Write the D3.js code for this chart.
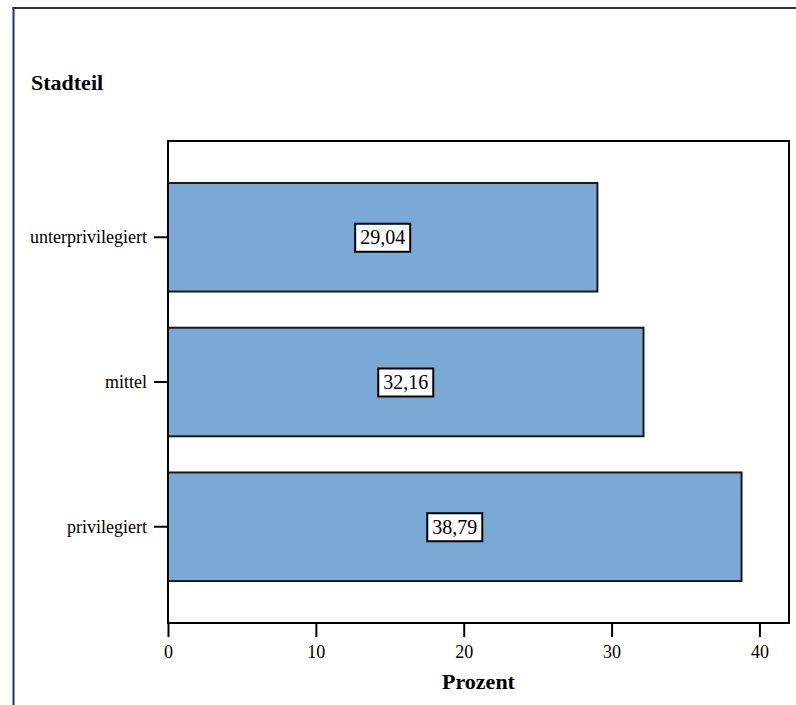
<!DOCTYPE html>
<html><head><meta charset="utf-8">
<script src="https://cdn.jsdelivr.net/npm/d3@7"></script>
<style>
body{margin:0;background:#fff;}
svg{display:block;}
text{font-family:"Liberation Serif","DejaVu Serif",serif;fill:#000;}
</style></head>
<body>
<svg id="chart" width="796" height="705"></svg>
<script>
const categories = ["unterprivilegiert", "mittel", "privilegiert"];
const values = [29.04, 32.16, 38.79];
const labels = ["29,04", "32,16", "38,79"];
const xTicks = [0, 10, 20, 30, 40];
const xDomain = [0, 42];
const chartTitle = "Stadteil";
const xTitle = "Prozent";

const svg = d3.select("#chart");
const W = 796, H = 705;
const plot = {left: 168, top: 141, right: 789, bottom: 623};

// outer frame (left + top lines)
svg.append("line").attr("x1", 13.5).attr("x2", 13.5).attr("y1", 7).attr("y2", H)
  .attr("stroke", "#2b2b6e").attr("stroke-width", 2);
svg.append("line").attr("x1", 12.5).attr("x2", W).attr("y1", 8).attr("y2", 8)
  .attr("stroke", "#2b2b6e").attr("stroke-width", 2);

svg.append("text").attr("x", 31).attr("y", 90)
  .attr("font-size", 22).attr("font-weight", "bold").text(chartTitle);

const x = d3.scaleLinear().domain(xDomain).range([plot.left, plot.right]);
const y = d3.scaleBand().domain(categories).range([plot.top, plot.bottom])
  .paddingInner(0.25).paddingOuter(0.29);

// bars
svg.append("g").selectAll("rect").data(categories).join("rect")
  .attr("x", x(0))
  .attr("y", d => y(d))
  .attr("width", (d, i) => x(values[i]) - x(0))
  .attr("height", y.bandwidth())
  .attr("fill", "#7aa9d6")
  .attr("stroke", "#1a1a1a")
  .attr("stroke-width", 2);

// value labels
const lg = svg.append("g").selectAll("g").data(categories).join("g")
  .attr("transform", (d, i) => `translate(${(x(0) + x(values[i])) / 2},${y(d) + y.bandwidth() / 2})`);
lg.append("rect").attr("fill", "#fff").attr("stroke", "#000").attr("stroke-width", 2);
const txts = lg.append("text").attr("text-anchor", "middle").attr("dy", "0.35em")
  .attr("font-size", 20).text((d, i) => labels[i]);
txts.each(function () {
  const b = this.getBBox();
  const w = b.width + 10, h = 28;
  d3.select(this.parentNode).select("rect")
    .attr("x", -w / 2).attr("y", -h / 2 + 0.5).attr("width", w).attr("height", h);
});

// axes
const xAxis = svg.append("g").attr("transform", `translate(0,${plot.bottom})`)
  .call(d3.axisBottom(x).tickValues(xTicks).tickSize(14).tickPadding(8).tickFormat(d3.format("d")));
const yAxis = svg.append("g").attr("transform", `translate(${plot.left},0)`)
  .call(d3.axisLeft(y).tickSize(14).tickPadding(7));
[xAxis, yAxis].forEach(a => {
  a.attr("font-family", null).attr("font-size", null);
  a.select(".domain").remove();
  a.selectAll(".tick line").attr("stroke", "#000").attr("stroke-width", 2);
  a.selectAll(".tick text").attr("font-size", 18).attr("fill", "#111");
});

// plot frame
svg.append("rect").attr("x", plot.left).attr("y", plot.top)
  .attr("width", plot.right - plot.left).attr("height", plot.bottom - plot.top)
  .attr("fill", "none").attr("stroke", "#000").attr("stroke-width", 2);

svg.append("text").attr("x", (plot.left + plot.right) / 2).attr("y", 689)
  .attr("text-anchor", "middle").attr("font-size", 22).attr("font-weight", "bold").text(xTitle);
</script>
</body></html>
